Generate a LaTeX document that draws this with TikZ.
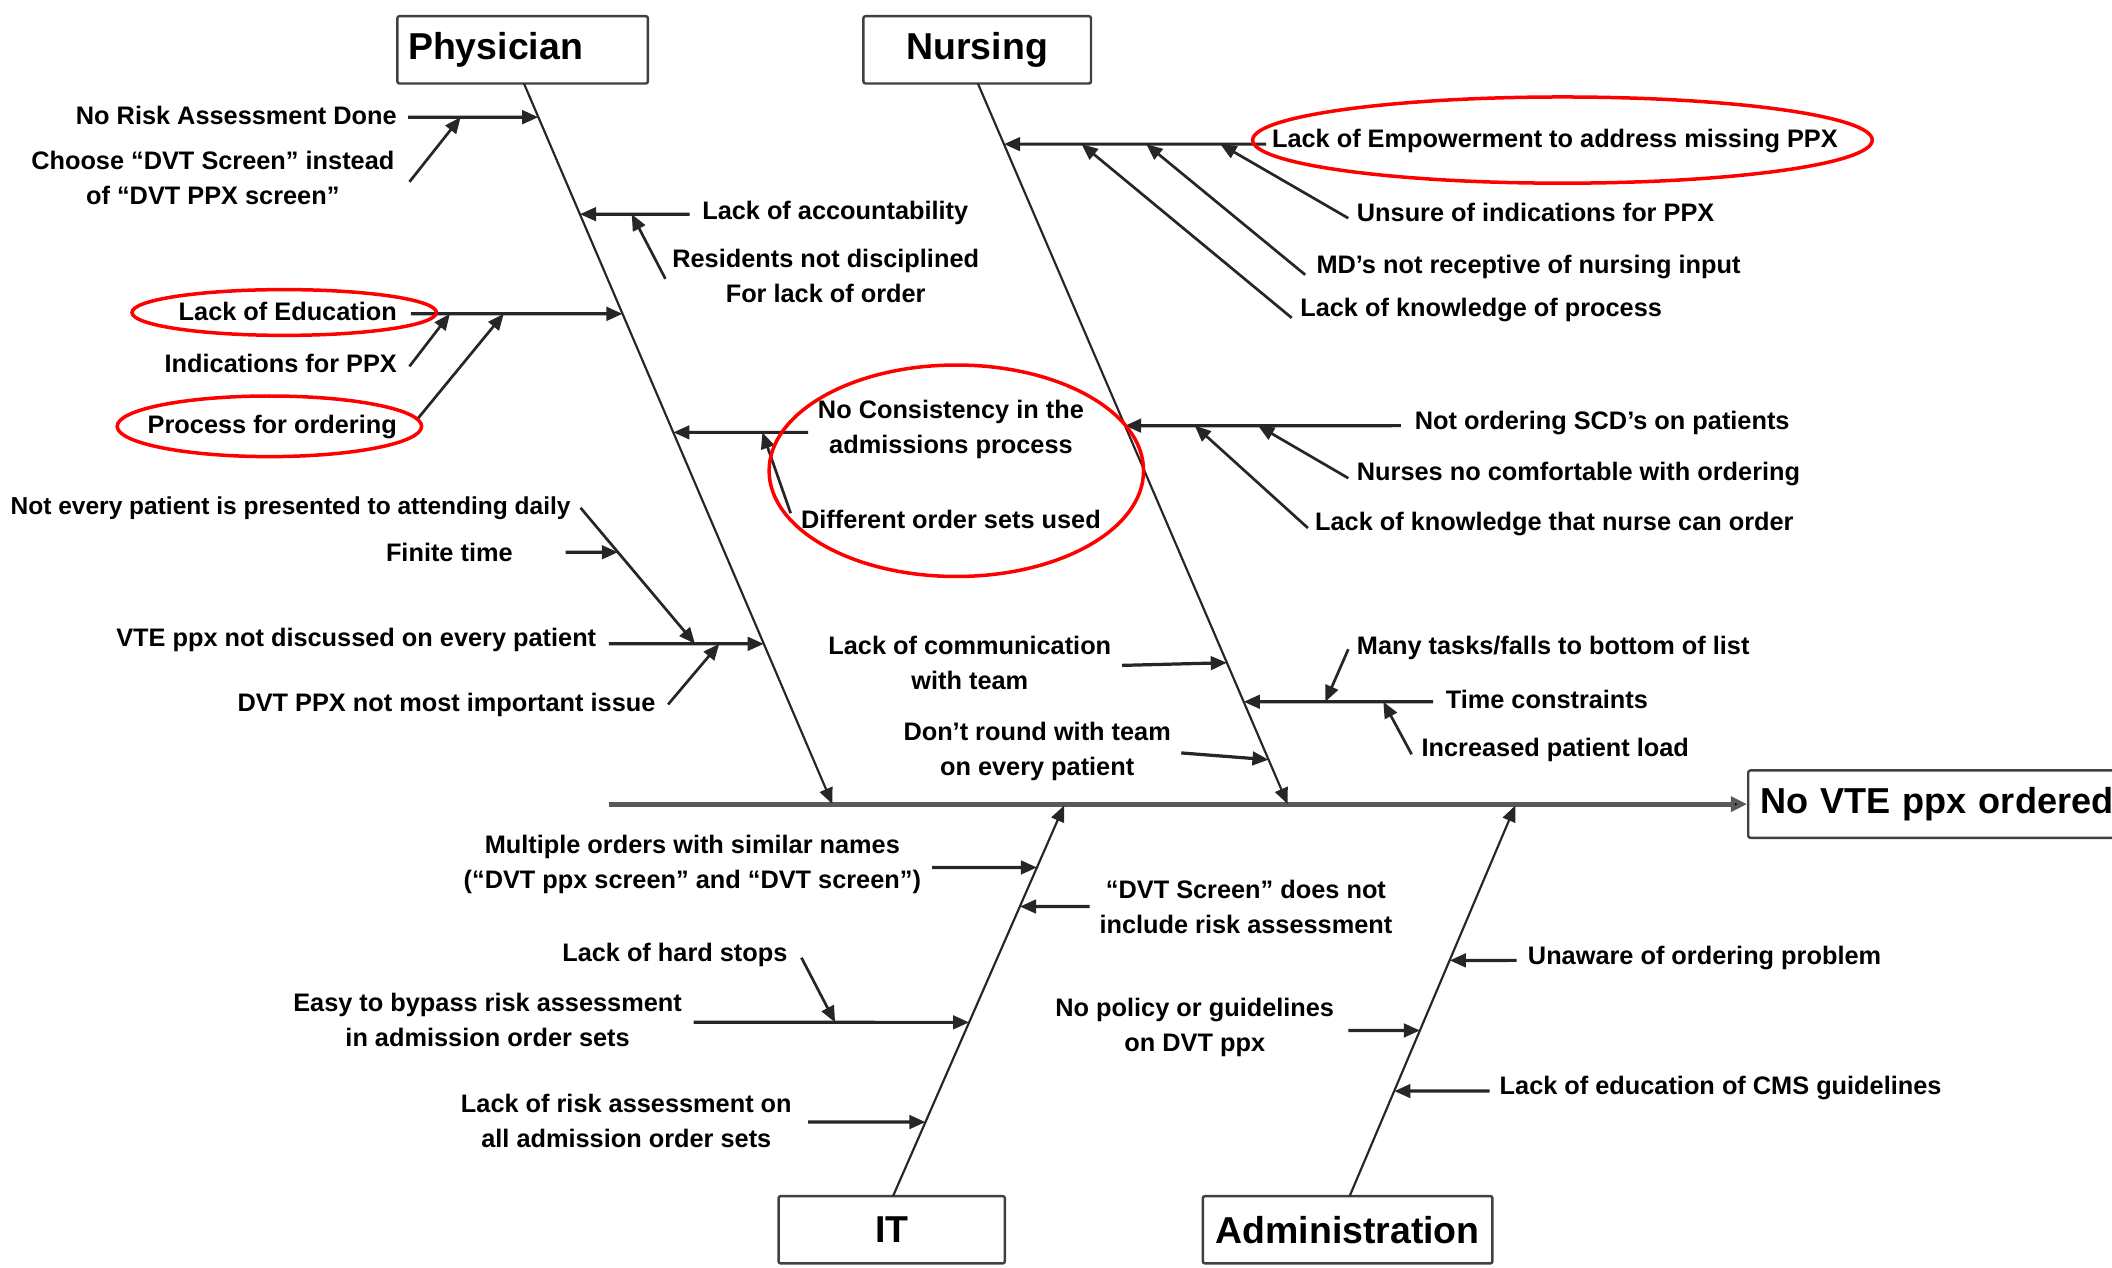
\documentclass[tikz,border=0pt]{standalone}
\usepackage{fontspec}
\setmainfont{Liberation Sans}
\usetikzlibrary{arrows.meta,calc}

\begin{document}
\begin{tikzpicture}[x=0.5pt,y=-0.5pt,
  lbl/.style={font=\fontsize{9.4}{13}\selectfont\bfseries, inner sep=0pt, align=center, text=black},
  catbox/.style={draw=black!75, line width=0.9pt, fill=white, minimum height=25pt, inner sep=0pt,
                 font=\fontsize{13.9}{16}\selectfont\bfseries, rounded corners=0.8pt},
  tip/.style={-{Triangle[length=6pt,width=5pt]}},
  spine/.style={line width=1.8pt, draw=black!65, -{Triangle[length=6pt,width=5.5pt,fill=black]}},
  bone/.style={line width=0.8pt, draw=black!85, tip},
  br/.style={line width=1.2pt, draw=black!85, tip},
  subar/.style={line width=1pt, draw=black!85, tip},
  ring/.style={draw=red, line width=1.3pt}
]
\useasboundingbox (0,0) rectangle (1568,941);

% ---------- category boxes and effect ----------
\node[catbox, minimum width=93pt, text width=85pt, align=left, inner xsep=4pt] (phys) at (388,37) {Physician};
\node[catbox, minimum width=84.5pt] (nurs) at (725.5,37) {Nursing};
\node[catbox, minimum width=84pt] (itb) at (662,913) {IT};
\node[catbox, minimum width=107.5pt] (adm) at (1000.5,913) {Administration};
\node[catbox, anchor=west, minimum width=170pt, text width=161pt, align=left, inner xsep=4.5pt,
      font=\fontsize{13.4}{16}\selectfont\bfseries] (res) at (1297,597) {No VTE ppx ordered};

% ---------- spine and bones ----------
\coordinate (sL) at (452,597);
\draw[spine] (sL) -- (res.west);

\coordinate (phT) at (389,62);  \coordinate (phB) at (618,597);
\coordinate (nuT) at (726,62);  \coordinate (nuB) at (956,597);
\coordinate (itT) at (663,888); \coordinate (itB) at (790,598);
\coordinate (adT) at (1002,888);\coordinate (adB) at (1125,598);
\draw[bone] (phT) -- (phB);
\draw[bone] (nuT) -- (nuB);
\draw[bone] (itT) -- (itB);
\draw[bone] (adT) -- (adB);

% ---------- Physician ----------
\node[lbl, anchor=east] (norisk) at (295,86) {No Risk Assessment Done};
\node[lbl] (choose) at (158,132) {Choose “DVT Screen” instead\\of “DVT PPX screen”};
\node[lbl, anchor=west] (account) at (521,158) {Lack of accountability};
\node[lbl] (resid) at (613,205) {Residents not disciplined\\For lack of order};
\node[lbl, anchor=east] (educ) at (295,231) {Lack of Education};
\node[lbl, anchor=east] (indic) at (295,270) {Indications for PPX};
\node[lbl, anchor=east] (proc) at (295,317) {Process for ordering};
\node[lbl] (nocons) at (706,319) {No Consistency in the\\admissions process};
\node[lbl] (diffs) at (706,386) {Different order sets used};
\node[lbl, anchor=east, font=\fontsize{9.1}{13}\selectfont\bfseries] (notevery) at (424,377) {Not every patient is presented to attending daily};
\node[lbl, anchor=east] (finite) at (381,410) {Finite time};
\node[lbl, anchor=east] (vte) at (443,475) {VTE ppx not discussed on every patient};
\node[lbl, anchor=east] (dvtnot) at (487,523) {DVT PPX not most important issue};

\coordinate (b1s) at (303,87);  \coordinate (b1e) at (intersection of phT--phB and 0,87--1,87);
\coordinate (c1s) at (304,135); \coordinate (c1e) at (342,87);
\coordinate (b2s) at (512,159); \coordinate (b2e) at (intersection of phT--phB and 0,159--1,159);
\coordinate (c2s) at (494,207); \coordinate (c2e) at (469,159);
\coordinate (b3s) at (305,233); \coordinate (b3e) at (intersection of phT--phB and 0,233--1,233);
\coordinate (c3s) at (304,272); \coordinate (c3e) at (334,233);
\coordinate (c3bs) at (310,311);\coordinate (c3be) at (374,233);
\coordinate (b4s) at (600,321); \coordinate (b4e) at (intersection of phT--phB and 0,321--1,321);
\coordinate (c4s) at (587,381); \coordinate (c4e) at (566,321);
\coordinate (b5s) at (452,478); \coordinate (b5e) at (intersection of phT--phB and 0,478--1,478);
\coordinate (c5s) at (431,377); \coordinate (c5e) at (516,478);
\coordinate (c5bs) at (420,410);\coordinate (c5be) at (intersection of c5s--c5e and 0,410--1,410);
\coordinate (c5cs) at (496,523);\coordinate (c5ce) at (534,478);

\draw[br] (b1s) -- (b1e);   \draw[subar] (c1s) -- (c1e);
\draw[br] (b2s) -- (b2e);   \draw[subar] (c2s) -- (c2e);
\draw[br] (b3s) -- (b3e);   \draw[subar] (c3s) -- (c3e); \draw[subar] (c3bs) -- (c3be);
\draw[br] (b4s) -- (b4e);   \draw[subar] (c4s) -- (c4e);
\draw[br] (b5s) -- (b5e);   \draw[subar] (c5s) -- (c5e); \draw[br] (c5bs) -- (c5be); \draw[subar] (c5cs) -- (c5ce);

% ---------- Nursing ----------
\node[lbl, anchor=west] (empow) at (944,105) {Lack of Empowerment to address missing PPX};
\node[lbl, anchor=west] (unsure) at (1007,158) {Unsure of indications for PPX};
\node[lbl, anchor=west] (mdnot) at (977,198) {MD’s not receptive of nursing input};
\node[lbl, anchor=west] (lkproc) at (965,230) {Lack of knowledge of process};
\node[lbl, anchor=west] (scd) at (1050,314) {Not ordering SCD’s on patients};
\node[lbl, anchor=west] (nurses) at (1007,352) {Nurses no comfortable with ordering};
\node[lbl, anchor=west] (lkn) at (976,389) {Lack of knowledge that nurse can order};
\node[lbl] (comm) at (720,492) {Lack of communication\\with team};
\node[lbl, anchor=west] (many) at (1007,481) {Many tasks/falls to bottom of list};
\node[lbl, anchor=west] (timec) at (1073,519) {Time constraints};
\node[lbl, anchor=west] (incr) at (1055,557) {Increased patient load};
\node[lbl] (round) at (770,558) {Don’t round with team\\on every patient};

\coordinate (n1s) at (940,107);  \coordinate (n1e) at (intersection of nuT--nuB and 0,107--1,107);
\coordinate (m1s) at (1001,162); \coordinate (m1e) at (906,107);
\coordinate (m2s) at (969,204);  \coordinate (m2e) at (851,107);
\coordinate (m3s) at (959,236);  \coordinate (m3e) at (803,107);
\coordinate (n2s) at (1040,316); \coordinate (n2e) at (intersection of nuT--nuB and 0,316--1,316);
\coordinate (m4s) at (1001,355); \coordinate (m4e) at (934,316);
\coordinate (m5s) at (971,392);  \coordinate (m5e) at (887,316);
\coordinate (n3s) at (833,494);  \coordinate (n3e) at (intersection of nuT--nuB and 0,492--1,492);
\coordinate (n4s) at (1064,521); \coordinate (n4e) at (intersection of nuT--nuB and 0,521--1,521);
\coordinate (m6s) at (1001,482); \coordinate (m6e) at (984,521);
\coordinate (m7s) at (1048,560); \coordinate (m7e) at (1027,521);
\coordinate (n5s) at (877,559);  \coordinate (n5e) at (intersection of nuT--nuB and 0,564--1,564);

\draw[br] (n1s) -- (n1e); \draw[subar] (m1s) -- (m1e); \draw[subar] (m2s) -- (m2e); \draw[subar] (m3s) -- (m3e);
\draw[br] (n2s) -- (n2e); \draw[subar] (m4s) -- (m4e); \draw[subar] (m5s) -- (m5e);
\draw[br] (n3s) -- (n3e);
\draw[br] (n4s) -- (n4e); \draw[subar] (m6s) -- (m6e); \draw[subar] (m7s) -- (m7e);
\draw[br] (n5s) -- (n5e);

% ---------- IT ----------
\node[lbl] (mult) at (514,642) {Multiple orders with similar names\\(“DVT ppx screen” and “DVT screen”)};
\node[lbl] (dvtscr) at (925,673) {“DVT Screen” does not\\include risk assessment};
\node[lbl, anchor=east] (hard) at (585,709) {Lack of hard stops};
\node[lbl] (easy) at (362,757) {Easy to bypass risk assessment\\in admission order sets};
\node[lbl] (lackrisk) at (465,832) {Lack of risk assessment on\\all admission order sets};

\coordinate (i1s) at (692,644); \coordinate (i1e) at (intersection of itT--itB and 0,644--1,644);
\coordinate (i2s) at (809,673); \coordinate (i2e) at (intersection of itT--itB and 0,673--1,673);
\coordinate (i3s) at (515,759); \coordinate (i3e) at (intersection of itT--itB and 0,759--1,759);
\coordinate (j3s) at (595,711); \coordinate (j3e) at (620,759);
\coordinate (i4s) at (600,833); \coordinate (i4e) at (intersection of itT--itB and 0,833--1,833);

\draw[br] (i1s) -- (i1e);
\draw[br] (i2s) -- (i2e);
\draw[br] (i3s) -- (i3e); \draw[subar] (j3s) -- (j3e);
\draw[br] (i4s) -- (i4e);

% ---------- Administration ----------
\node[lbl, anchor=west] (unaware) at (1134,711) {Unaware of ordering problem};
\node[lbl] (policy) at (887,763) {No policy or guidelines\\on DVT ppx};
\node[lbl, anchor=west] (cms) at (1113,808) {Lack of education of CMS guidelines};

\coordinate (a1s) at (1126,713); \coordinate (a1e) at (intersection of adT--adB and 0,713--1,713);
\coordinate (a2s) at (1001,765); \coordinate (a2e) at (intersection of adT--adB and 0,765--1,765);
\coordinate (a3s) at (1106,810); \coordinate (a3e) at (intersection of adT--adB and 0,810--1,810);

\draw[br] (a1s) -- (a1e);
\draw[br] (a2s) -- (a2e);
\draw[br] (a3s) -- (a3e);

% ---------- red highlight ellipses ----------
\draw[ring] (211,232) ellipse [x radius=113, y radius=17];
\draw[ring] (200,316.5) ellipse [x radius=113, y radius=22.5];
\draw[ring] (710,349.5) ellipse [x radius=139, y radius=78.5];
\draw[ring] (1160,104) ellipse [x radius=230, y radius=32];
\end{tikzpicture}
\end{document}
